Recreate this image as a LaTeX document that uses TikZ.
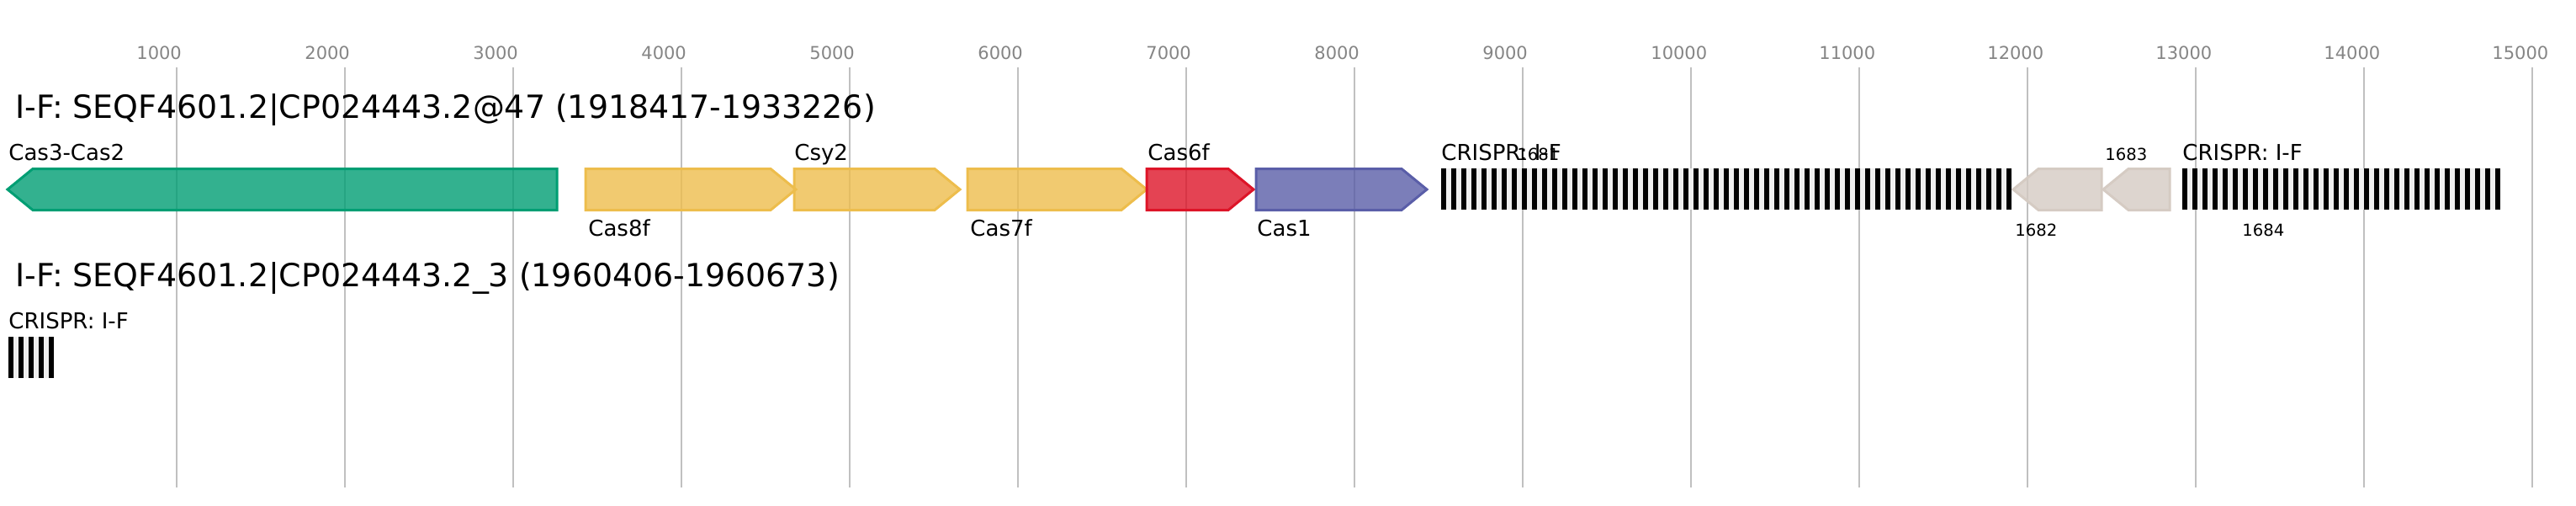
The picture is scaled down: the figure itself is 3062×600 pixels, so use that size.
\documentclass[tikz,border=0pt]{standalone}
\usepackage{fontspec}
\setmainfont{DejaVu Sans}
\usetikzlibrary{positioning}

\definecolor{gridgray}{HTML}{C0C0C0}
\definecolor{ticktext}{HTML}{858585}
\definecolor{casgreen}{HTML}{009E73}
\definecolor{casyellow}{HTML}{EDBD4C}
\definecolor{casred}{HTML}{DD1428}
\definecolor{casblue}{HTML}{5A5EA8}
\definecolor{otherbeige}{HTML}{D5CBC3}
\definecolor{spacergray}{HTML}{EFEFEF}

\begin{document}
\begin{tikzpicture}[x=0.5pt,y=-0.5pt,
    gene/.style={line width=1.5pt,line join=miter,fill opacity=0.8},
    lbl/.style={anchor=base west,inner sep=0pt,font=\fontsize{13}{15}\selectfont},
    small/.style={anchor=base west,inner sep=0pt,font=\fontsize{9.8}{12}\selectfont},
    ticklbl/.style={anchor=base west,inner sep=0pt,text=ticktext,font=\fontsize{10.5}{12}\selectfont},
    title/.style={anchor=base west,inner sep=0pt,font=\fontsize{18.95}{22}\selectfont}]
  \useasboundingbox (0,0) rectangle (3062,600);

  % scale
  \foreach \k in {1,...,15}{
    \draw[gridgray,line width=1pt] ({10+200*\k},80) -- ({10+200*\k},579);
    \node[ticklbl] (tick\k) at ({10+200*\k-48},70) {\k000};
  }

  % locus 1
  \node[title] (title1) at (18,140) {I-F: SEQF4601.2|CP024443.2@47 (1918417-1933226)};

  \foreach \a/\b/\c in {696/946/casyellow,944/1141/casyellow,1150/1363/casyellow,
                        1363/1490/casred,1493/1696/casblue}{
    \draw[gene,draw=\c,fill=\c] (\a,200.5) -- ({\b-30},200.5) -- (\b,225)
      -- ({\b-30},249.5) -- (\a,249.5) -- cycle;
  }
  \foreach \a/\b/\c in {9/662/casgreen,2393/2498/otherbeige,2500/2579/otherbeige}{
    \draw[gene,draw=\c,fill=\c] (\b,200.5) -- ({\a+30},200.5) -- (\a,225)
      -- ({\a+30},249.5) -- (\b,249.5) -- cycle;
  }

  \fill[spacergray] (1713,200) rectangle (2391,249);
  \foreach \i in {0,...,56}
    \fill ({1713+12*\i},200) rectangle ++(6,49);
  \fill[spacergray] (2594,200) rectangle (2972,249);
  \foreach \i in {0,...,31}
    \fill ({2594+12*\i},200) rectangle ++(6,49);

  \node[lbl] (lcas3) at (10,190) {Cas3-Cas2};
  \node[lbl] (lcas8) at (699,280) {Cas8f};
  \node[lbl] (lcsy2) at (944,190) {Csy2};
  \node[lbl] (lcas7) at (1153,280) {Cas7f};
  \node[lbl] (lcas6) at (1364,190) {Cas6f};
  \node[lbl] (lcas1) at (1494,280) {Cas1};
  \node[lbl] (lcr1) at (1713,190) {CRISPR: I-F};
  \node[small] (l1681) at (1803,190) {1681};
  \node[small] (l1682) at (2395,280) {1682};
  \node[small] (l1683) at (2502,190) {1683};
  \node[lbl] (lcr2) at (2594,190) {CRISPR: I-F};
  \node[small] (l1684) at (2665,280) {1684};

  % locus 2
  \node[title] (title2) at (18,340) {I-F: SEQF4601.2|CP024443.2\_3 (1960406-1960673)};
  \node[lbl] (lcr3) at (10,390) {CRISPR: I-F};
  \fill[spacergray] (10,400) rectangle (64,449);
  \foreach \i in {0,...,4}
    \fill ({10+12*\i},400) rectangle ++(6,49);
\end{tikzpicture}
\end{document}
